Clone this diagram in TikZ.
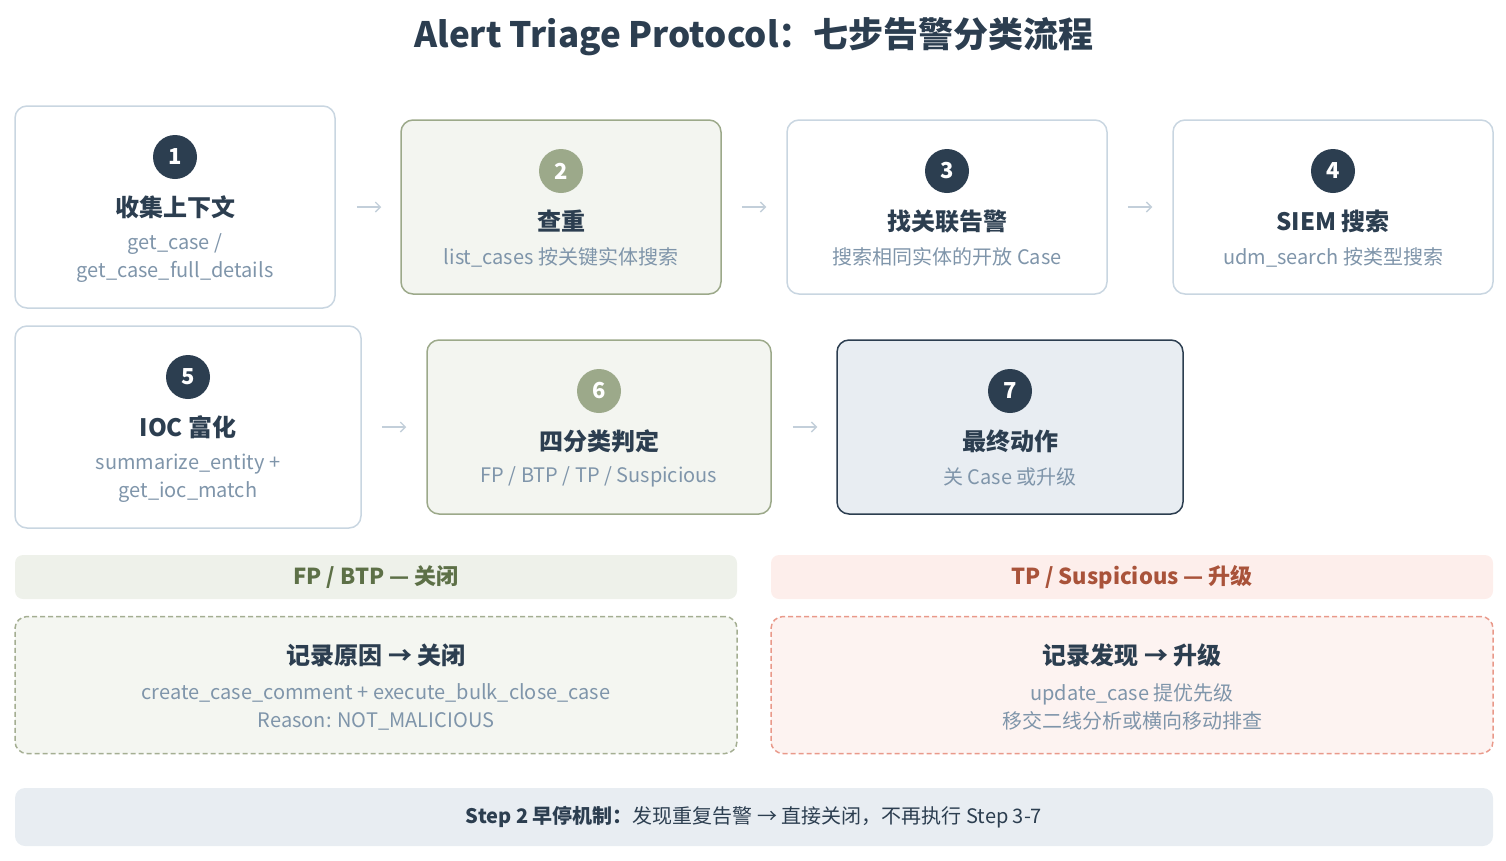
\documentclass[tikz,border=0pt]{standalone}
\usepackage{fontspec}
\setmainfont{Noto Sans CJK SC}
\usetikzlibrary{arrows.meta,positioning}
\definecolor{ink}{HTML}{2C3E50}
\definecolor{muted}{HTML}{7F95AA}
\definecolor{edge}{HTML}{C9D6E1}
\definecolor{sage}{HTML}{9CA98A}
\definecolor{sagebg}{HTML}{F3F5F0}
\definecolor{slatebg}{HTML}{E8EDF2}
\definecolor{arrowc}{HTML}{C3CFDA}
\definecolor{okhead}{HTML}{EEF1EA}
\definecolor{oktext}{HTML}{5D7047}
\definecolor{okbg}{HTML}{F4F6F1}
\definecolor{okdash}{HTML}{A4AE92}
\definecolor{badhead}{HTML}{FDEEEB}
\definecolor{badtext}{HTML}{A9533A}
\definecolor{badbg}{HTML}{FDF3F1}
\definecolor{baddash}{HTML}{E9998A}

\begin{document}
\begin{tikzpicture}[x=1pt, y=-1pt,
  card/.style={draw=edge, line width=1.5pt, fill=white, rounded corners=12pt, minimum width=320pt, minimum height=174pt},
  greencard/.style={card, draw=sage, fill=sagebg},
  num/.style={circle, fill=ink, text=white, minimum size=44pt, inner sep=0pt, font=\fontsize{22}{22}\selectfont\bfseries},
  ttl/.style={text=ink, font=\fontsize{24}{27}\selectfont\bfseries},
  sub/.style={text=muted, align=center, font=\fontsize{20}{28}\selectfont},
  flow/.style={draw=arrowc, line width=1.4pt, -{Straight Barb[length=5pt,width=10pt]}},
  band/.style={rounded corners=8pt, minimum width=722pt, minimum height=44pt, font=\fontsize{22}{24}\selectfont\bfseries},
  panel/.style={dashed, dash pattern=on 5pt off 3pt, line width=1.5pt, rounded corners=12pt, minimum width=722pt, minimum height=137pt}]
\useasboundingbox (0,0) rectangle (1506,860);

% title
\node[text=ink, font=\fontsize{35}{38}\selectfont\bfseries] (title) at (754,37) {Alert Triage Protocol：七步告警分类流程};

% row one
\node[card, minimum height=202pt] (b1) at (175,207) {};
\node[num] (n1) at (175,157) {1};
\node[ttl] (t1) at (175,207) {收集上下文};
\node[sub] (s1) at (175,258) {get\_case /\\get\_case\_full\_details};

\node[greencard] (b2) at (561,207) {};
\node[num, fill=sage] (n2) at (561,171) {2};
\node[ttl] (t2) at (561,221) {查重};
\node[sub] (s2) at (561,257) {list\_cases 按关键实体搜索};

\node[card] (b3) at (947,207) {};
\node[num] (n3) at (947,171) {3};
\node[ttl] (t3) at (947,221) {找关联告警};
\node[sub] (s3) at (947,257) {搜索相同实体的开放 Case};

\node[card] (b4) at (1333,207) {};
\node[num] (n4) at (1333,171) {4};
\node[ttl] (t4) at (1333,221) {SIEM 搜索};
\node[sub] (s4) at (1333,257) {udm\_search 按类型搜索};

\draw[flow, shorten <=21pt, shorten >=19pt] (b1) -- (b2);
\draw[flow, shorten <=20pt, shorten >=20pt] (b2) -- (b3);
\draw[flow, shorten <=20pt, shorten >=20pt] (b3) -- (b4);

% row two
\node[card, minimum width=346pt, minimum height=202pt] (b5) at (188,427) {};
\node[num] (n5) at (188,377) {5};
\node[ttl] (t5) at (188,427) {IOC 富化};
\node[sub] (s5) at (188,478) {summarize\_entity +\\get\_ioc\_match};

\node[greencard, minimum width=344pt] (b6) at (599,427) {};
\node[num, fill=sage] (n6) at (599,391) {6};
\node[ttl] (t6) at (599,441) {四分类判定};
\node[sub] (s6) at (599,477) {FP / BTP / TP / Suspicious};

\node[card, draw=ink, fill=slatebg, minimum width=346pt] (b7) at (1010,427) {};
\node[num] (n7) at (1010,391) {7};
\node[ttl] (t7) at (1010,441) {最终动作};
\node[sub] (s7) at (1010,477) {关 Case 或升级};

\draw[flow, shorten <=20pt, shorten >=20pt] (b5) -- (b6);
\draw[flow, shorten <=21pt, shorten >=19pt] (b6) -- (b7);

% outcomes
\node[band, fill=okhead, text=oktext] (h1) at (376,577) {FP / BTP — 关闭};
\node[band, fill=badhead, text=badtext] (h2) at (1132,577) {TP / Suspicious — 升级};

\node[panel, draw=okdash, fill=okbg] (p1) at (376,685) {};
\node[ttl] (pt1) at (376,655) {记录原因 → 关闭};
\node[sub] (ps1) at (376,707) {create\_case\_comment + execute\_bulk\_close\_case\\Reason: NOT\_MALICIOUS};

\node[panel, draw=baddash, fill=badbg] (p2) at (1132,685) {};
\node[ttl] (pt2) at (1132,655) {记录发现 → 升级};
\node[sub] (ps2) at (1132,707) {update\_case 提优先级\\移交二线分析或横向移动排查};

% early stop note
\node[rounded corners=10pt, fill=slatebg, minimum width=1478pt, minimum height=58pt, text=ink, font=\fontsize{20}{22}\selectfont] (note) at (754,817) {\textbf{Step 2 早停机制：}发现重复告警 → 直接关闭，不再执行 Step 3-7};
\end{tikzpicture}
\end{document}
